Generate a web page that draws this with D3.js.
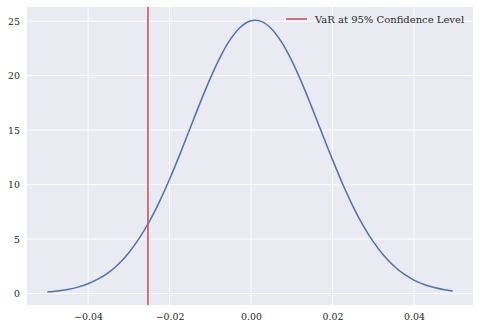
<!DOCTYPE html>
<html>
<head>
<meta charset="utf-8">
<script src="https://cdn.jsdelivr.net/npm/d3@7"></script>
<style>
  body { margin: 0; background: #fff; }
  text { font-family: "DejaVu Serif", serif; fill: #262626; }
</style>
</head>
<body>
<svg id="chart"></svg>
<script>
'use strict';
// returns (density curve)
var returns = [-0.05, -0.0475, -0.045, -0.0425, -0.04, -0.0375, -0.035, -0.0325, -0.03, -0.0275,
    -0.025, -0.0225, -0.02, -0.0175, -0.015, -0.0125, -0.01, -0.0075, -0.005, -0.0025,
    0, 0.0025, 0.005, 0.0075, 0.01, 0.0125, 0.015, 0.0175, 0.02, 0.0225,
    0.025, 0.0275, 0.03, 0.0325, 0.035, 0.0375, 0.04, 0.0425, 0.045, 0.0475, 0.0495];
var density = [0.15, 0.24, 0.38, 0.59, 0.90, 1.34, 1.93, 2.72, 3.75, 5.04,
    6.59, 8.42, 10.49, 12.75, 15.13, 17.50, 19.75, 21.75, 23.37, 24.49,
    25.04, 24.98, 24.31, 23.08, 21.38, 19.31, 17.02, 14.64, 12.29, 10.06,
    8.03, 6.26, 4.76, 3.53, 2.55, 1.80, 1.24, 0.83, 0.55, 0.35, 0.24];
var varLevel = -0.0253;
var legendLabel = 'VaR at 95% Confidence Level';
var xTicks = [-0.04, -0.02, 0, 0.02, 0.04];
var yTicks = [0, 5, 10, 15, 20, 25];

var width = 480, height = 329;
var mLeft = 27, mRight = 473, mTop = 7, mBottom = 305;

var svg = d3.select('#chart').attr('width', width).attr('height', height);

var x = d3.scaleLinear().domain([-0.055, 0.0545]).range([mLeft, mRight]);
var y = d3.scaleLinear().domain([-1.05, 26.3]).range([mBottom, mTop]);

svg.append('rect')
    .attr('x', mLeft).attr('y', mTop)
    .attr('width', mRight - mLeft).attr('height', mBottom - mTop)
    .attr('fill', '#EAEAF2');

// grid
svg.append('g').selectAll('line').data(xTicks).enter().append('line')
    .attr('x1', function(d){return x(d);}).attr('x2', function(d){return x(d);})
    .attr('y1', mTop).attr('y2', mBottom)
    .attr('stroke', '#fff').attr('stroke-width', 1);
svg.append('g').selectAll('line').data(yTicks).enter().append('line')
    .attr('x1', mLeft).attr('x2', mRight)
    .attr('y1', function(d){return y(d);}).attr('y2', function(d){return y(d);})
    .attr('stroke', '#fff').attr('stroke-width', 1);

// axes, no tick marks
var xAxis = svg.append('g')
    .attr('transform', 'translate(0,' + mBottom + ')')
    .call(d3.axisBottom(x).tickValues(xTicks).tickSize(0).tickPadding(8)
        .tickFormat(function(d){return d3.format('.2f')(d).replace('-', '\u2212');}));
var yAxis = svg.append('g')
    .attr('transform', 'translate(' + mLeft + ',0)')
    .call(d3.axisLeft(y).tickValues(yTicks).tickSize(0).tickPadding(7));
[xAxis, yAxis].forEach(function(a){
    a.select('.domain').remove();
    a.selectAll('text').attr('font-family', 'DejaVu Serif').attr('font-size', '9.4px').attr('fill', '#262626');
});

// density curve
var pts = returns.map(function(r, i){return [r, density[i]];});
svg.append('path')
    .datum(pts)
    .attr('d', d3.line()
        .x(function(d){return x(d[0]);})
        .y(function(d){return y(d[1]);})
        .curve(d3.curveCatmullRom))
    .attr('fill', 'none')
    .attr('stroke', '#4C72B0')
    .attr('stroke-width', 1.5);

// VaR line
svg.append('line')
    .attr('x1', x(varLevel)).attr('x2', x(varLevel))
    .attr('y1', mTop).attr('y2', mBottom)
    .attr('stroke', '#C44E52').attr('stroke-width', 1.5);

// legend
var lg = svg.append('g').attr('transform', 'translate(286,19)');
lg.append('line').attr('x1', 0).attr('x2', 21).attr('y1', 0).attr('y2', 0)
    .attr('stroke', '#C44E52').attr('stroke-width', 1.5);
lg.append('text').attr('x', 29).attr('y', 3.5)
    .attr('font-size', '10px')
    .text(legendLabel);
</script>
</body>
</html>
